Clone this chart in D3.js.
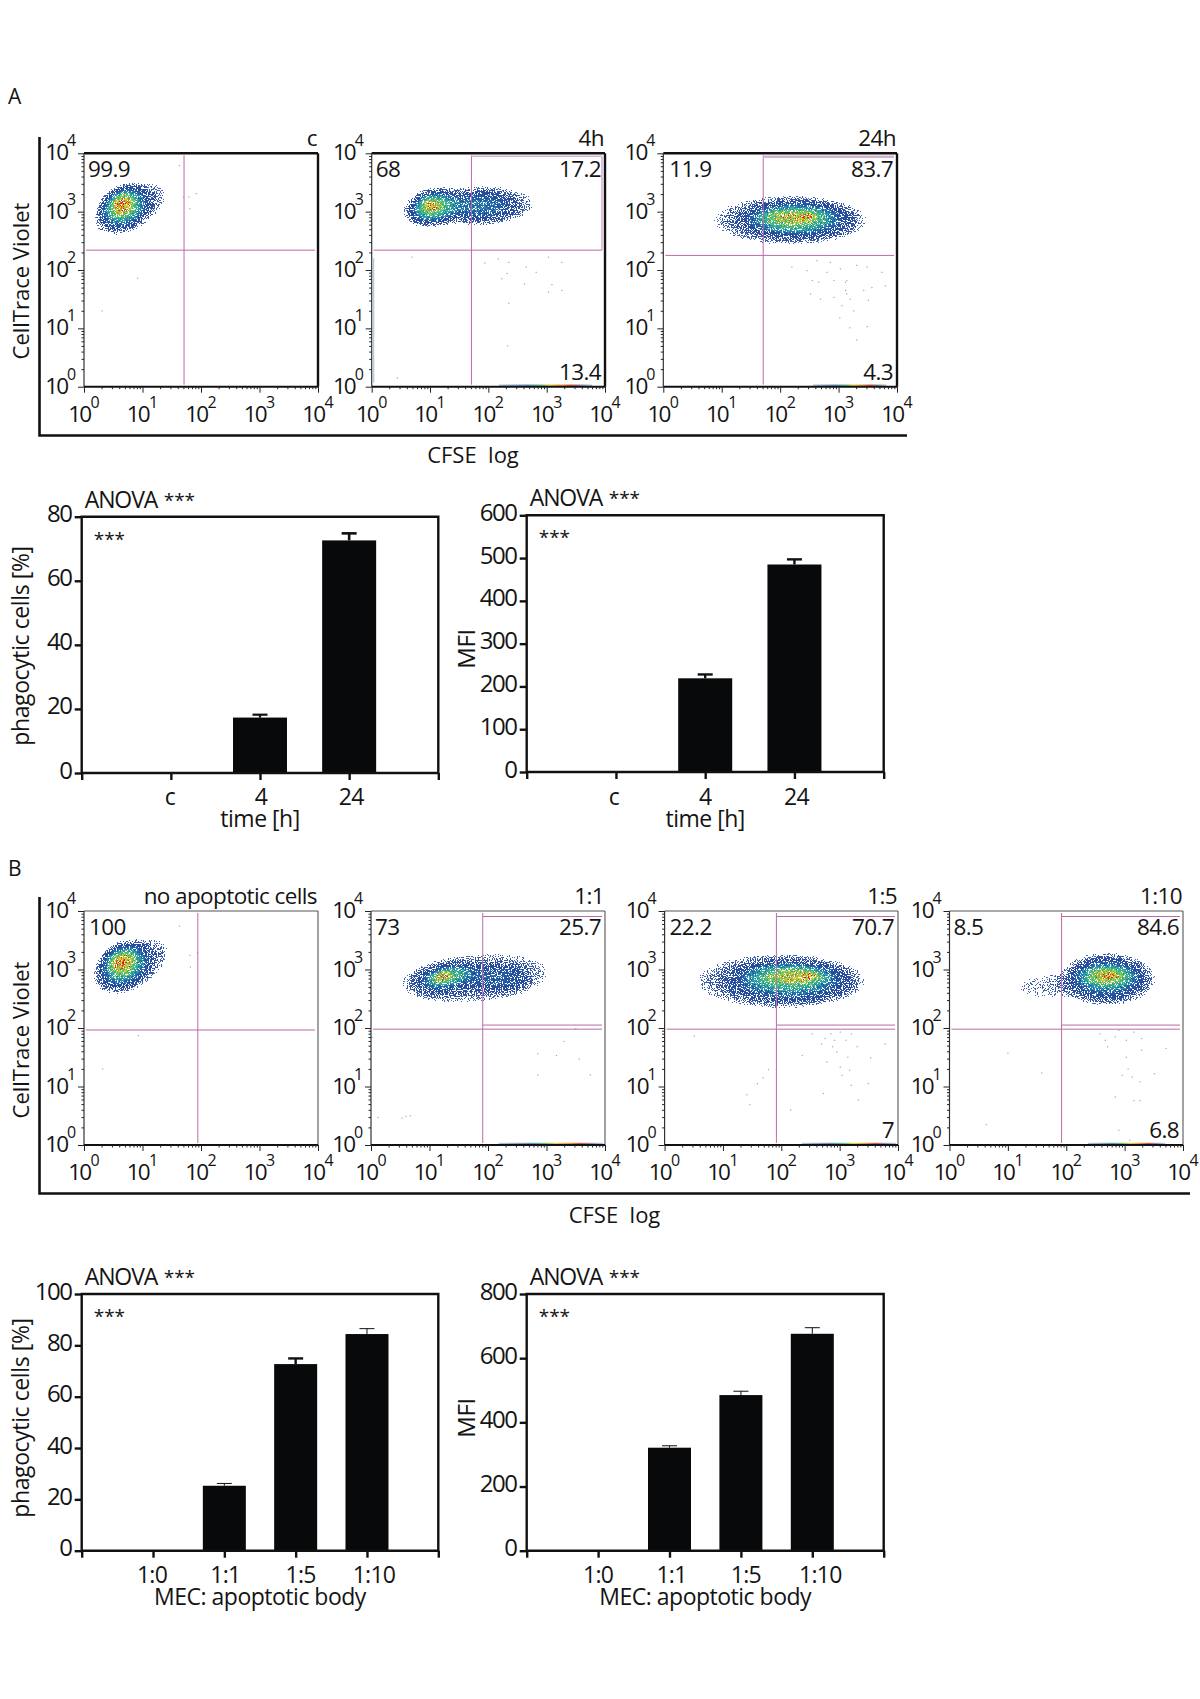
<!DOCTYPE html>
<html><head><meta charset="utf-8">
<script src="https://cdn.jsdelivr.net/npm/d3@7/dist/d3.min.js"></script>
<style>
html,body{margin:0;padding:0;background:#fff}
svg{display:block}
text{font-family:"Open Sans",sans-serif;fill:#141414}
</style></head><body>
<svg id="chart" width="1200" height="1699"></svg>
<script>
// ---- bar chart data ----
const timeCategories = ["c","4","24"];
const ratioCategories = ["1:0","1:1","1:5","1:10"];
const phagoTime = [0,17.3,72.6];
const phagoTimeErr = [0,18.2,74.8];
const mfiTime = [0,219,485];
const mfiTimeErr = [0,228,497];
const phagoRatio = [0,25.3,72.7,84.4];
const phagoRatioErr = [0,26.2,74.9,86.5];
const mfiRatio = [0,321,485,676];
const mfiRatioErr = [0,327,497,695];
const phagoTimeTicks = [0,20,40,60,80];
const mfiTimeTicks = [0,100,200,300,400,500,600];
const phagoRatioTicks = [0,20,40,60,80,100];
const mfiRatioTicks = [0,200,400,600,800];
const decades = [0,1,2,3,4];

// ---- flow plot corner labels ----
const titlesA = ["c","4h","24h"];
const titlesB = ["no apoptotic cells","1:1","1:5","1:10"];
const upperLeft = [["99.9","68","11.9"],["100","73","22.2","8.5"]];
const upperRight = [["","17.2","83.7"],["","25.7","70.7","84.6"]];
const lowerRight = [["","13.4","4.3"],["","","7","6.8"]];

// ---- gates, in log10 units: vertical, horizontal ----
const gateV = [1.71,1.71,1.71,1.946,1.91,1.916,1.92];
const gateH = [2.34,2.34,2.25,1.966,1.98,1.98,1.98];

// ---- density regions, log10 units: x, y, rx, ry, tilt, density ----
const densityA1 = [[.8,3.05,.66,.34,-30,.16],[.68,3.08,.42,.33,-30,.34],[.65,3.1,.3,.25,-30,.3],[.65,3.12,.2,.16,-30,.45],[.65,3.13,.07,.06,-30,.8]];
const densityA2 = [[1.85,3.1,.95,.34,-2,.16],[1.85,3.1,.6,.24,0,.2],[1.05,3.07,.46,.3,-12,.3],[1.03,3.08,.33,.22,-12,.3],[1.02,3.09,.2,.14,-12,.36],[1.02,3.1,.1,.07,-12,.25]];
const densityA3 = [[2.15,2.85,1.3,.42,0,.17],[2.3,2.87,.9,.3,0,.26],[2.25,2.88,.65,.22,0,.3],[2.2,2.9,.5,.13,0,.32],[2.45,2.92,.15,.07,0,.4]];
const densityB1 = [[.82,3.05,.7,.36,-30,.16],[.68,3.08,.44,.35,-30,.34],[.65,3.1,.3,.26,-30,.3],[.65,3.12,.2,.16,-30,.45],[.65,3.12,.07,.06,-30,.8]];
const densityB2 = [[1.8,2.85,1.3,.42,-5,.14],[1.3,2.85,.6,.27,-10,.18],[2.2,2.85,.5,.25,0,.16],[1.3,2.88,.4,.15,-12,.34],[1.23,2.88,.17,.09,-15,.5]];
const densityB3 = [[1.95,2.8,1.4,.46,0,.17],[2.2,2.8,1.0,.34,0,.25],[2.1,2.87,.7,.23,0,.3],[2.25,2.88,.5,.13,0,.32],[2.48,2.9,.15,.07,0,.4]];
const densityB4 = [[1.6,2.7,.6,.26,0,.07],[2.7,2.83,.8,.44,0,.18],[2.7,2.85,.62,.33,0,.26],[2.7,2.88,.45,.19,0,.32],[2.7,2.9,.3,.12,0,.36],[2.72,2.9,.12,.06,0,.4]];

// ---- stray events, log10 units ----
const strayA1 = [[.905,1.87],[.3,1.31],[1.78,3.26],[1.91,3.32],[1.8,3.06],[1.69,3.26],[1.62,3.8]];
const strayA2 = [[1.93,2.13],[2.16,2.2],[2.34,2.14],[2.64,2.06],[2.81,1.97],[3.02,2.23],[3.25,2.14],[2.31,1.95],[2.22,1.86],[2.61,1.77],[3.08,1.76],[3.25,1.66],[3.02,1.63],[2.34,1.44],[2.32,.71],[.43,.16],[.68,2.23]];
const strayA3 = [[2.45,2.0],[2.54,1.83],[2.65,1.8],[2.51,1.6],[2.68,1.51],[2.79,1.97],[2.91,1.83],[3.02,2.03],[3.11,1.8],[3.13,1.6],[3.19,1.51],[3.05,1.4],[3.01,1.19],[3.25,1.31],[3.18,1.02],[3.48,1.04],[3.3,.81],[3.5,1.49],[3.42,1.66],[3.56,1.71],[3.79,1.74],[3.73,1.97],[3.48,2.06],[3.3,2.09],[2.85,2.14],[2.62,2.17],[2.19,2.06],[3.13,1.83],[2.91,1.54],[3.11,1.66]];
const strayB1 = [[.92,1.88],[.31,1.31],[1.93,3.3],[1.8,3.25],[1.81,3.05],[1.62,3.75]];
const strayB2 = [[.11,.48],[.52,.47],[.66,.51],[.59,.5],[3.29,1.78],[2.84,1.57],[3.16,1.54],[3.55,1.48],[2.84,1.21],[3.74,1.21],[3.49,2.0],[.01,1.85]];
const strayB3 = [[.5,1.87],[1.77,1.3],[1.68,1.16],[1.58,1.06],[1.4,.87],[1.45,.7],[2.15,.61],[2.71,.89],[3.31,.78],[3.48,1.06],[3.19,1.03],[3.03,1.2],[3.16,1.29],[3.0,1.34],[3.13,1.51],[3.52,1.5],[2.94,1.6],[2.77,1.43],[2.68,1.74],[2.87,1.69],[3.1,1.8],[3.29,1.69],[2.84,1.91],[3,1.94],[3.77,1.74],[2.35,1.54],[2.52,1.91],[2.9,1.8],[2.74,1.83],[3.19,1.91]];
const strayB4 = [[.99,1.58],[1.57,1.24],[.62,.36],[2.83,.83],[3.15,.77],[3.25,.77],[3.25,1.09],[3.05,1.31],[2.95,1.2],[3.12,1.17],[2.89,.26],[3.08,.09],[2.7,1.69],[3.02,1.51],[3.28,1.63],[3.7,1.66],[2.57,1.91],[2.83,1.86],[3.02,1.8],[3.28,1.83],[2.89,1.97],[3.15,1.94],[3.5,1.23],[2.66,1.8]];

// ---- events piled on the lower axis, log10 range ----
const stripRanges = [null,[2.18,3.78],[2.56,3.82],null,[2.18,3.97],[2.35,3.97],[2.37,3.7]];

const svg = d3.select("#chart");
const defs = svg.append("defs");
const GATE = "#b96aa8", GATEPALE = "#d9b2d2";
const pow10 = d => Math.pow(10,d);
const FADE = 1.4;

const fadeGrad = defs.append("radialGradient").attr("id","fade");
[[0,1],[.35,.85],[.6,.5],[.72,.25],[.85,.07],[1,0]].forEach(s=>fadeGrad.append("stop").attr("offset",s[0]).attr("stop-color","#000").attr("stop-opacity",s[1]));

function speckleFilter(id, box, seed){
  const f = defs.append("filter").attr("id",id)
    .attr("filterUnits","userSpaceOnUse")
    .attr("x",box.x).attr("y",box.y).attr("width",box.w).attr("height",box.h)
    .attr("color-interpolation-filters","sRGB");
  f.append("feGaussianBlur").attr("in","SourceAlpha").attr("stdDeviation",1.2).attr("result","blur");
  const toGrey = "0 0 0 1 0 0 0 0 1 0 0 0 0 1 0 0 0 0 0 1";
  const toContrast = "0 0 0 3.6 -1.3 0 0 0 3.6 -1.3 0 0 0 3.6 -1.3 0 0 0 0 1";
  f.append("feColorMatrix").attr("in","blur").attr("type","matrix").attr("values",toGrey).attr("result","field");
  f.append("feTurbulence").attr("type","fractalNoise").attr("baseFrequency",0.85).attr("numOctaves",1).attr("seed",seed).attr("result","turb");
  f.append("feColorMatrix").attr("in","turb").attr("type","matrix").attr("values",toGrey).attr("result","noise");
  f.append("feColorMatrix").attr("in","turb").attr("type","matrix").attr("values",toContrast).attr("result","noiseHard");
  // colour follows the density with a little grain
  f.append("feComposite").attr("in","field").attr("in2","noise").attr("operator","arithmetic")
    .attr("k1",2.4).attr("k2",-0.2).attr("k3",0).attr("k4",0).attr("result","v");
  const ct = f.append("feComponentTransfer").attr("in","v").attr("result","col");
  ct.append("feFuncR").attr("type","table").attr("tableValues","0.5 0.2 0.14 0.15 0.15 0.2 0.35 0.7 0.95 0.96 0.88");
  ct.append("feFuncG").attr("type","table").attr("tableValues","0.62 0.34 0.28 0.36 0.6 0.72 0.78 0.82 0.82 0.5 0.12");
  ct.append("feFuncB").attr("type","table").attr("tableValues","0.82 0.66 0.6 0.66 0.72 0.6 0.4 0.25 0.12 0.08 0.06");
  // coverage thins out with a harder grain
  f.append("feComposite").attr("in","field").attr("in2","noiseHard").attr("operator","arithmetic")
    .attr("k1",4).attr("k2",0).attr("k3",0).attr("k4",0).attr("result","w");
  f.append("feColorMatrix").attr("in","w").attr("type","matrix")
    .attr("values","0 0 0 0 0 0 0 0 0 0 0 0 0 0 0 1 0 0 0 0").attr("result","a");
  const at = f.append("feComponentTransfer").attr("in","a").attr("result","mask");
  at.append("feFuncA").attr("type","discrete").attr("tableValues","0 0 0 0 1 1 1 1 1 1 1 1 1 1 1 1 1 1 1 1");
  f.append("feComposite").attr("in","col").attr("in2","mask").attr("operator","in");
}

function flowPlot(o){
  const x = d3.scaleLog().domain([1,1e4]).range([o.l,o.r]);
  const y = d3.scaleLog().domain([1,1e4]).range([o.b,o.t]);
  const id = "sp"+o.i;
  speckleFilter(id,{x:o.l+1,y:o.t+1,w:o.r-o.l-2,h:o.b-o.t-2},o.i*7+3);
  // density
  const g = svg.append("g").attr("filter",`url(#${id})`);
  g.selectAll("ellipse").data(o.density).join("ellipse")
    .attr("cx",d=>x(pow10(d[0]))).attr("cy",d=>y(pow10(d[1])))
    .attr("rx",d=>FADE*(x(pow10(d[0]+d[2]))-x(pow10(d[0]))))
    .attr("ry",d=>FADE*(y(pow10(d[1]))-y(pow10(d[1]+d[3]))))
    .attr("transform",d=>`rotate(${d[4]},${x(pow10(d[0]))},${y(pow10(d[1]))})`)
    .attr("fill","url(#fade)").attr("fill-opacity",d=>d[5]);
  // stray events
  svg.append("g").selectAll("rect").data(o.stray).join("rect")
    .attr("x",d=>x(pow10(d[0]))).attr("y",d=>y(pow10(d[1])))
    .attr("width",1.2).attr("height",1.2).attr("fill","#7c93b5").attr("opacity",.8);
  // lower strip
  if(o.strip){
    const gid="strip"+o.i;
    const lg=defs.append("linearGradient").attr("id",gid);
    [[0,"#b8c4d4"],[.3,"#5f8fc0"],[.45,"#60c090"],[.55,"#e6d040"],[.68,"#e89040"],[.78,"#d85040"],[.9,"#7fa0c0"],[1,"#c0c8d8"]]
      .forEach(s=>lg.append("stop").attr("offset",s[0]).attr("stop-color",s[1]));
    svg.append("rect").attr("x",x(pow10(o.strip[0]))).attr("width",x(pow10(o.strip[1]))-x(pow10(o.strip[0])))
      .attr("y",o.b-2.2).attr("height",2).attr("fill",`url(#${gid})`);
  }
  // gates
  const xg = x(pow10(gateV[o.i])), yg = y(pow10(gateH[o.i]));
  const line=(a,b,c,d,col,w)=>svg.append("line").attr("x1",a).attr("y1",b).attr("x2",c).attr("y2",d).attr("stroke",col||GATE).attr("stroke-width",w||1);
  line(xg,o.t+2,xg,o.b-2);
  line(o.l+2,yg,o.r-3,yg);
  if(o.gateStyle==="box"){
    line(xg,o.t+3,o.r-3,o.t+3,GATEPALE,1.6); line(o.r-3,o.t+3,o.r-3,yg,GATEPALE,1.6);
  } else if(o.gateStyle==="bar"){
    line(xg,o.t+3.5,o.r-3,o.t+3.5,GATEPALE,2.4);
  } else if(o.gateStyle==="double"){
    const y2=y(pow10(gateH[o.i]+.07));
    line(xg,y2,o.r-3,y2); line(xg,o.t+5.5,o.r-3,o.t+5.5);
  }
  if(o.leftStack) svg.append("line").attr("x1",o.l+2).attr("x2",o.l+2)
    .attr("y1",y(pow10(o.leftStack))).attr("y2",o.b-4).attr("stroke","#a9c3dc").attr("stroke-width",1.1);
  // frame
  const fw=o.frameW, fc=o.frameC;
  line(o.l,o.t,o.r,o.t,fc,fw); line(o.r,o.t,o.r,o.b,fc,fw); line(o.l,o.t,o.l,o.b,"#333",1.2); line(o.l,o.b,o.r,o.b,"#111",2);
  // axes
  const all=[]; for(let k=0;k<4;k++) for(let m=1;m<10;m++) all.push(m*pow10(k)); all.push(1e4);
  const major=v=>decades.includes(Math.round(Math.log10(v)*1e4)/1e4);
  const ax=svg.append("g").attr("transform",`translate(0,${o.b})`)
    .call(d3.axisBottom(x).tickValues(all).tickSize(2.5).tickFormat(""));
  const ay=svg.append("g").attr("transform",`translate(${o.l},0)`)
    .call(d3.axisLeft(y).tickValues(all).tickSize(2.5).tickFormat(""));
  [ax,ay].forEach(a=>{a.select(".domain").remove(); a.selectAll(".tick line").attr("stroke","#222").attr("stroke-width",1);});
  ax.selectAll(".tick line").filter(major).attr("y2",6);
  ay.selectAll(".tick line").filter(major).attr("x2",-6);
  const tk=(X,Y,a,t,s,ls)=>svg.append("text").attr("x",X).attr("y",Y).attr("text-anchor",a).attr("font-size",s).attr("letter-spacing",ls).text(t);
  decades.forEach(d=>{
    const X=x(pow10(d)),Y=y(pow10(d));
    tk(X+6,o.b+35,"end","10",22.5,-2); tk(X+6.5,o.b+21,"start",d,16,-1);
    tk(o.l-17,Y+7,"end","10",22.5,-2); tk(o.l-17,Y-7,"start",d,16,-1);
  });
  // labels
  const lab=(X,Y,a,t)=>{ if(t) svg.append("text").attr("x",X).attr("y",Y).attr("text-anchor",a).attr("font-size",22.5).attr("letter-spacing",-.6).text(t); };
  lab(o.r-1,o.t-7,"end",o.title);
  lab(o.l+o.ulx,o.t+24,"start",o.ul);
  lab(o.r-4,o.t+24,"end",o.ur);
  lab(o.r-4,o.b-7,"end",o.lr);
}

const rowA={t:153.3,b:386.7}, rowB={t:911,b:1145};
const colsA=[[84,318],[371.7,605],[663.3,897]], colsB=[[84,318],[371,605],[664.6,898],[949.5,1183]];
const densities=[densityA1,densityA2,densityA3,densityB1,densityB2,densityB3,densityB4];
const strays=[strayA1,strayA2,strayA3,strayB1,strayB2,strayB3,strayB4];
colsA.forEach((c,i)=>flowPlot({i,l:c[0],r:c[1],t:rowA.t,b:rowA.b,density:densities[i],stray:strays[i],strip:stripRanges[i],
  title:titlesA[i],ul:upperLeft[0][i],ur:upperRight[0][i],lr:lowerRight[0][i],ulx:[4,4,6][i],
  gateStyle:[null,"box","bar"][i],frameW:2.4,frameC:"#111",leftStack:i==1?2.2:null}));
colsB.forEach((c,j)=>{const i=j+3; flowPlot({i,l:c[0],r:c[1],t:rowB.t,b:rowB.b,density:densities[i],stray:strays[i],strip:stripRanges[i],
  title:titlesB[j],ul:upperLeft[1][j],ur:upperRight[1][j],lr:lowerRight[1][j],ulx:[5,4,5,4][j],
  gateStyle:j?"double":null,frameW:1.1,frameC:"#555",leftStack:null});});

// frames around the flow rows and shared labels
function bracket(x0,y0,y1,x1){
  svg.append("path").attr("d",d3.line()([[x0,y0],[x0,y1],[x1,y1]])).attr("fill","none").attr("stroke","#111").attr("stroke-width",2.6);
}
bracket(39.5,137,435.5,907);
bracket(39.5,897,1193.5,1190);
const plain=(X,Y,a,t,s,rot)=>{
  const e=svg.append("text").attr("text-anchor",a).attr("font-size",s).text(t);
  if(rot) e.attr("transform",`translate(${X},${Y}) rotate(-90)`); else e.attr("x",X).attr("y",Y);
  return e;
};
plain(473,463,"middle","CFSE\u00A0\u00A0log",22);
plain(614.5,1223,"middle","CFSE\u00A0\u00A0log",22);
plain(28.5,281,"middle","CellTrace Violet",22,true);
plain(28.5,1040,"middle","CellTrace Violet",22,true);
plain(8,104,"start","A",21);
plain(8,876,"start","B",21);

// ---- bar charts ----
function barChart(o){
  const n=o.cats.length;
  const x=d3.scaleLinear().domain([0,n+1]).range([o.l,o.r]);
  const y=d3.scaleLinear().domain([0,o.max]).range([o.b,o.t]);
  const g=svg.append("g");
  g.selectAll("rect").data(o.vals).join("rect")
    .attr("x",(d,i)=>x(i+1)-o.bw/2).attr("width",o.bw)
    .attr("y",d=>y(d)).attr("height",d=>y(0)-y(d)).attr("fill","#08090b");
  o.errs.forEach((e,i)=>{
    if(!o.vals[i]) return;
    const X=x(i+1), w=o.errW[i];
    g.append("line").attr("x1",X).attr("x2",X).attr("y1",y(o.vals[i])).attr("y2",y(e)).attr("stroke","#111").attr("stroke-width",w);
    g.append("line").attr("x1",X-7.5).attr("x2",X+7.5).attr("y1",y(e)).attr("y2",y(e)).attr("stroke","#111").attr("stroke-width",w);
  });
  const axL=svg.append("g").attr("transform",`translate(${o.l},0)`).call(d3.axisLeft(y).tickValues(o.ticks).tickSize(7).tickFormat(""));
  const axB=svg.append("g").attr("transform",`translate(0,${o.b})`).call(d3.axisBottom(x).tickValues(d3.range(0,n+2)).tickSize(7).tickFormat(""));
  [axL,axB].forEach(a=>{a.select(".domain").remove(); a.selectAll(".tick line").attr("stroke","#111").attr("stroke-width",2.4);});
  svg.append("path").attr("d",d3.line()([[x(0),o.b],[x(0),o.t],[x(n+1),o.t],[x(n+1),o.b],[x(0),o.b]]))
    .attr("fill","none").attr("stroke","#111").attr("stroke-width",2.4);
  o.ticks.forEach(t=>svg.append("text").attr("x",o.l-10).attr("y",y(t)+5.5).attr("text-anchor","end").attr("font-size",24).attr("letter-spacing",-1.4).text(t));
  o.cats.forEach((c,i)=>svg.append("text").attr("x",x(i+1)+o.labelShift[i]).attr("y",o.b+o.catDy).attr("text-anchor","middle").attr("font-size",23).attr("letter-spacing",-.7).text(c));
  plain((x(0)+x(n+1))/2,o.b+o.titleDy,"middle",o.xTitle,23).attr("letter-spacing",-.5);
  plain(o.yX,o.yY,"middle",o.yTitle,o.yS,true).attr("letter-spacing",-.4);
  plain(o.l+3,o.t-9,"start","ANOVA",23).attr("letter-spacing",-1.1);
  plain(o.l+82,o.t-10,"start","***",19);
  plain(o.l+12,o.t+29,"start","***",19);
}
barChart({l:81.7,r:438.3,t:516.7,b:773,max:80,cats:timeCategories,vals:phagoTime,errs:phagoTimeErr,ticks:phagoTimeTicks,bw:54,errW:[0,2.2,2.6],labelShift:[-1,1,2],catDy:32,titleDy:54,xTitle:"time [h]",yTitle:"phagocytic cells [%]",yS:23,yX:29,yY:646});
barChart({l:526.7,r:883.7,t:515.3,b:772,max:600,cats:timeCategories,vals:mfiTime,errs:mfiTimeErr,ticks:mfiTimeTicks,bw:54,errW:[0,2.4,2.4],labelShift:[-2,0,2],catDy:33,titleDy:55,xTitle:"time [h]",yTitle:"MFI",yS:24,yX:475,yY:649});
barChart({l:81.7,r:438.3,t:1294,b:1550.7,max:100,cats:ratioCategories,vals:phagoRatio,errs:phagoRatioErr,ticks:phagoRatioTicks,bw:43,errW:[0,1,2.4,1],labelShift:[-1,1,5,7],catDy:32,titleDy:54,xTitle:"MEC: apoptotic body",yTitle:"phagocytic cells [%]",yS:23,yX:29,yY:1418});
barChart({l:526.7,r:883.7,t:1294,b:1550.7,max:800,cats:ratioCategories,vals:mfiRatio,errs:mfiRatioErr,ticks:mfiRatioTicks,bw:43,errW:[0,1,1,1],labelShift:[0,2,5,8],catDy:32,titleDy:54,xTitle:"MEC: apoptotic body",yTitle:"MFI",yS:24,yX:475,yY:1418});
</script>
</body></html>
